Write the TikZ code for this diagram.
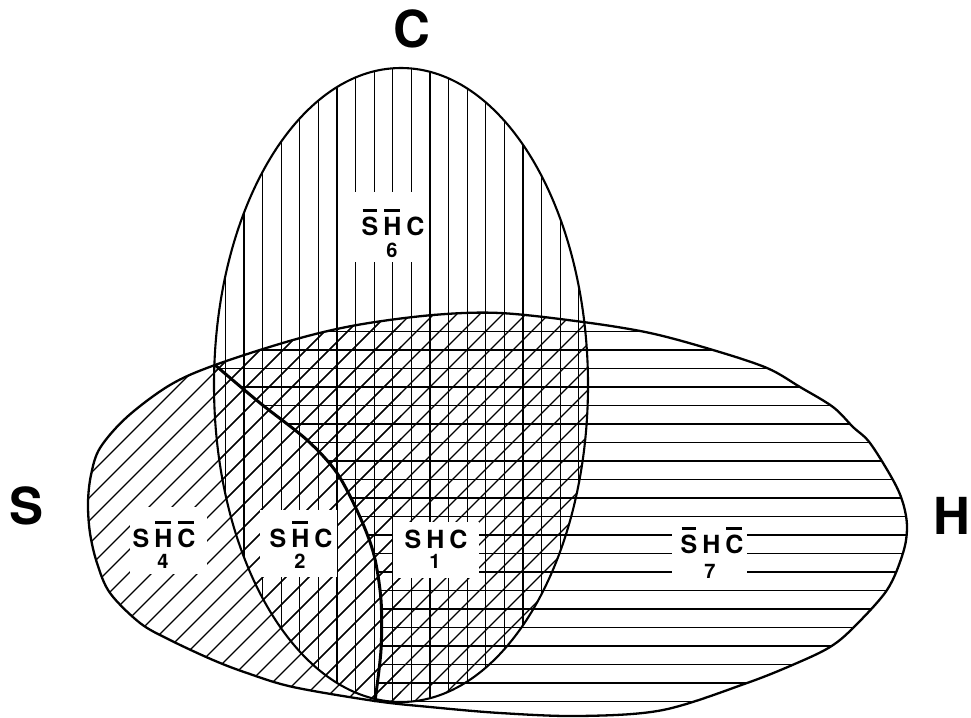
\documentclass[tikz,border=0pt]{standalone}
\usepackage{fontspec}
\setmainfont{TeX Gyre Heros}
\newcommand\ob[1]{\setbox0\hbox{#1}\rlap{\kern1pt\raisebox{23pt}{\rule{\dimexpr\wd0-2pt\relax}{3.2pt}}}\box0}
\newcommand\trk{\kern5pt}
\def\OuterP{plot[smooth cycle, tension=0.55] coordinates {(88,503) (91,475) (100,448) (127,417) (170,385) (215,365) (293,340) (357,325) (433,315) (500,313) (583,322) (650,333) (713,350) (767,368) (800,387) (833,407) (853,427) (870,443) (893,480) (903,503) (907,527) (903,553) (887,590) (853,628) (830,647) (797,663) (747,683) (663,710) (580,716) (500,713) (430,707) (375,701) (293,687) (247,673) (213,660) (170,640) (140,623) (110,593) (97,563) (90,533)}}
\def\HLeft{plot[smooth] coordinates {(215,365) (260,403) (307,440) (337,473) (360,517) (374,555) (381,600) (381,650) (375,701)}}
\def\CEll{(401,385) ellipse [x radius=187, y radius=317]}
\tikzset{
 hatch/.style={line width=1.3pt},
 outline/.style={line width=2.3pt},
 wbox/.style={fill=white, draw=none, inner sep=0pt},
 lett/.style={font=\fontsize{25}{25}\selectfont\bfseries, inner sep=0pt, anchor=base},
 digit/.style={font=\fontsize{20}{20}\selectfont\bfseries, inner sep=0pt, anchor=base},
 big/.style={font=\fontsize{51}{51}\selectfont\bfseries, inner sep=0pt},
}
\begin{document}
\begin{tikzpicture}[x=1pt,y=-1pt]
\useasboundingbox (0,0) rectangle (971,717);
\fill[white] (0,0) rectangle (971,717);
% S : diagonal hatching
\begin{scope}
 \clip \OuterP;
 \clip \CEll;
 \foreach \i in {0,...,40} \draw[hatch] ({\i*23-317},720) -- ({\i*23+103},300);
\end{scope}
\begin{scope}
 \clip \OuterP;
 \clip (0,0) rectangle (401,720);
 \foreach \i in {0,...,40} \draw[hatch] ({\i*23-317},720) -- ({\i*23+103},300);
\end{scope}
% C : vertical hatching
\begin{scope}
 \clip \CEll;
 \foreach \i in {0,...,19} \draw[hatch] ({225.4+18.6*\i},60) -- ({225.4+18.6*\i},710);
\end{scope}
% H : horizontal hatching
\begin{scope}
 \clip \OuterP;
 \clip (215,250) -- plot[smooth] coordinates {(215,365) (260,403) (307,440) (337,473) (360,517) (374,555) (381,600) (381,650) (375,701)} -- (375,760) -- (1000,760) -- (1000,250) -- cycle;
 \foreach \i in {0,...,20} \draw[hatch] (200,{331.5+18.5*\i}) -- (930,{331.5+18.5*\i});
\end{scope}
% label boxes
\node[wbox, minimum width=83pt, minimum height=70pt] (b6) at (386.5,227) {};
\node[wbox, minimum width=77pt, minimum height=67pt] (b4) at (168.5,540.5) {};
\node[wbox, minimum width=77pt, minimum height=67pt] (b2) at (298.5,543.5) {};
\node[wbox, minimum width=86pt, minimum height=56pt] (b1) at (436,550) {};
\node[wbox, minimum width=75pt, minimum height=60pt] (b7) at (709.5,552) {};
% outlines
\draw[outline] \OuterP;
\draw[line width=2.1pt] \CEll;
\draw[line width=3pt, line cap=round] \HLeft;
% labels
\node[lett] (t6) at (393,235) {\ob{S}\trk\ob{H}\trk C};
\node[digit] (n6) at (392,257) {6};
\node[lett] (t4) at (164,547) {S\trk\ob{H}\trk\ob{C}};
\node[digit] (n4) at (163,568) {4};
\node[lett] (t2) at (301,547) {S\trk\ob{H}\trk C};
\node[digit] (n2) at (300,568) {2};
\node[lett] (t1) at (436,548) {S\trk H\trk C};
\node[digit] (n1) at (435,568) {1};
\node[lett] (t7) at (712,553) {\ob{S}\trk H\trk\ob{C}};
\node[digit] (n7) at (710,578) {7};
% set names
\node[big] (lC) at (411.5,28.5) {C};
\node[big] (lS) at (27,506) {S};
\node[big] (lH) at (952,516) {H};
\end{tikzpicture}
\end{document}
